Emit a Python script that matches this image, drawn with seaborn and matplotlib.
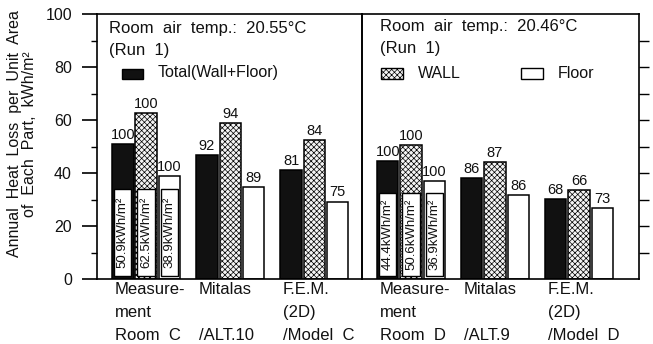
import matplotlib
matplotlib.use("Agg")
import matplotlib.pyplot as plt
from matplotlib.patches import Rectangle
from matplotlib.transforms import blended_transform_factory
import seaborn as sns
import pandas as pd

# ---- data -------------------------------------------------------------
parts = ["Total", "Wall", "Floor"]
methods_c = ["Measurement C", "Mitalas C", "FEM C"]
methods_d = ["Measurement D", "Mitalas D", "FEM D"]

# annual heat loss per unit area, kWh/m2  (rows: method, cols: Total/Wall/Floor)
values_c = [[50.9, 62.5, 38.9],
            [46.8, 58.8, 34.6],
            [41.2, 52.5, 29.2]]
values_d = [[44.4, 50.6, 36.9],
            [38.2, 44.0, 31.7],
            [30.2, 33.4, 26.9]]

# ratio to measurement, %
pct_c = [[100, 100, 100], [92, 94, 89], [81, 84, 75]]
pct_d = [[100, 100, 100], [86, 87, 86], [68, 66, 73]]

inner_c = ["50.9kWh/m\u00b2", "62.5kWh/m\u00b2", "38.9kWh/m\u00b2"]
inner_d = ["44.4kWh/m\u00b2", "50.6kWh/m\u00b2", "36.9kWh/m\u00b2"]

xlab_c = [["Measure-", "ment", "Room  C"], ["Mitalas", "", "/ALT.10"], ["F.E.M.", "(2D)", "/Model  C"]]
xlab_d = [["Measure-", "ment", "Room  D"], ["Mitalas", "", "/ALT.9"], ["F.E.M.", "(2D)", "/Model  D"]]

title_c = "Room  air  temp.:  20.55\u00b0C"
title_d = "Room  air  temp.:  20.46\u00b0C"
run_label = "(Run  1)"
ylabel = "Annual  Heat  Loss  per  Unit  Area\nof  Each  Part,  kWh/m\u00b2"
yticks = [0, 20, 40, 60, 80, 100]


def long_frame(methods, values):
    rows = []
    for m, vals in zip(methods, values):
        for p, v in zip(parts, vals):
            rows.append({"method": m, "part": p, "value": v})
    return pd.DataFrame(rows)


# ---- style ------------------------------------------------------------
sns.set_theme(style="white")
plt.rcParams["font.family"] = ["Liberation Sans", "DejaVu Sans"]
plt.rcParams["hatch.linewidth"] = 0.5
plt.rcParams["hatch.color"] = "#333333"

W, H = 653, 344
fig = plt.figure(figsize=(W / 100, H / 100), dpi=100)
fig.patch.set_facecolor("white")


def fx(x):
    return x / W


def fy(y):
    return 1 - y / H


ax1 = fig.add_axes([fx(97), fy(279), 265 / W, 265 / H])
ax2 = fig.add_axes([fx(362), fy(279), 277 / W, 265 / H])
for a in (ax1, ax2):
    a.patch.set_alpha(0)

face = {"Total": "#111111", "Wall": "#f4f4f4", "Floor": "white"}
hatch = {"Total": None, "Wall": "xxxxxx", "Floor": None}


def draw_panel(ax, methods, values, pct, inner, xlabels, box_top):
    df = long_frame(methods, values)
    sns.barplot(data=df, x="method", y="value", hue="part", hue_order=parts,
                order=methods, palette=face, width=0.83, gap=0.08,
                edgecolor="black", linewidth=1.1, legend=False, ax=ax,
                errorbar=None)
    for part, cont in zip(parts, ax.containers):
        for bar in cont:
            bar.set_facecolor(face[part])
            bar.set_edgecolor("black")
            if hatch[part]:
                bar.set_hatch(hatch[part])
    # ratio labels above the bars
    for j, cont in enumerate(ax.containers):
        for i, bar in enumerate(cont):
            cx = bar.get_x() + bar.get_width() / 2
            ax.text(cx, bar.get_height() + 0.8, str(pct[i][j]), ha="center",
                    va="bottom", fontsize=10.5, color="#111111")
    # absolute values written inside the measured bars
    for j, cont in enumerate(ax.containers):
        bar = cont[0]
        inset = 0.025
        x0 = bar.get_x() + inset
        w = bar.get_width() - 2 * inset
        top = min(box_top, bar.get_height() - 1.5)
        ax.add_patch(Rectangle((x0, 1.2), w, top - 1.2, facecolor="white",
                               edgecolor="black", linewidth=1.0, zorder=3))
        ax.text(x0 + w / 2, 1.2 + (top - 1.2) / 2, inner[j], rotation=90,
                ha="center", va="center", fontsize=9.5, zorder=4,
                color="#111111")
    # category captions under the axis
    tr = blended_transform_factory(ax.transData, fig.transFigure)
    for i, lines in enumerate(xlabels):
        left = ax.containers[0][i].get_x() + 0.03
        for k, line in enumerate(lines):
            ax.text(left, fy(290 + 22.5 * k), line, transform=tr, ha="left",
                    va="center", fontsize=12, color="#111111")
    ax.set_ylim(0, 100)
    ax.set_xlabel("")
    ax.set_ylabel("")
    ax.set_xticks([])
    for s in ax.spines.values():
        s.set_visible(True)
        s.set_color("black")
        s.set_linewidth(1.2)


draw_panel(ax1, methods_c, values_c, pct_c, inner_c, xlab_c, 34.0)
draw_panel(ax2, methods_d, values_d, pct_d, inner_d, xlab_d, 32.5)

ax1.set_xlim(-0.583, 2.565)
ax2.set_xlim(-0.583, 2.714)

# left axis ticks
ax1.set_yticks(yticks)
ax1.set_yticklabels([str(t) for t in yticks], fontsize=11.5, color="#111111")
ax1.set_yticks([10, 30, 50, 70, 90], minor=True)
ax1.tick_params(axis="y", which="major", direction="out", length=11,
                width=1.2, pad=7, left=True, color="black")
ax1.tick_params(axis="y", which="minor", direction="out", length=4,
                width=1.0, left=True, color="black")

# right axis ticks
ax2.set_yticks(list(range(10, 100, 10)))
ax2.tick_params(axis="y", which="major", direction="out", length=7,
                width=1.0, left=False, right=True, labelleft=False,
                labelright=False, color="black")

# headers and legend
hdr = dict(fontsize=12, color="#111111", va="center", ha="left")
fig.text(fx(109), fy(28), title_c, **hdr)
fig.text(fx(109), fy(50), run_label, **hdr)
fig.text(fx(380), fy(27), title_d, **hdr)
fig.text(fx(380), fy(48), run_label, **hdr)

leg = dict(fontsize=11.5, color="#111111", va="center", ha="left")
fig.add_artist(Rectangle((fx(122), fy(79)), 21 / W, 10 / H,
                         transform=fig.transFigure, facecolor="#111111",
                         edgecolor="black", linewidth=1))
fig.text(fx(158), fy(73), "Total(Wall+Floor)", **leg)
fig.add_artist(Rectangle((fx(381), fy(79)), 22 / W, 11 / H,
                         transform=fig.transFigure, facecolor="#f4f4f4",
                         edgecolor="black", linewidth=1, hatch="xxxxxx"))
fig.text(fx(418), fy(73), "WALL", **leg)
fig.add_artist(Rectangle((fx(521), fy(79)), 22 / W, 11 / H,
                         transform=fig.transFigure, facecolor="white",
                         edgecolor="black", linewidth=1))
fig.text(fx(558), fy(73), "Floor", **leg)

fig.text(fx(22), fy(134), ylabel, rotation=90, ha="center", va="center",
         fontsize=11.5, linespacing=1.05, color="#111111")

fig.savefig("out.png", dpi=100, facecolor="white")
